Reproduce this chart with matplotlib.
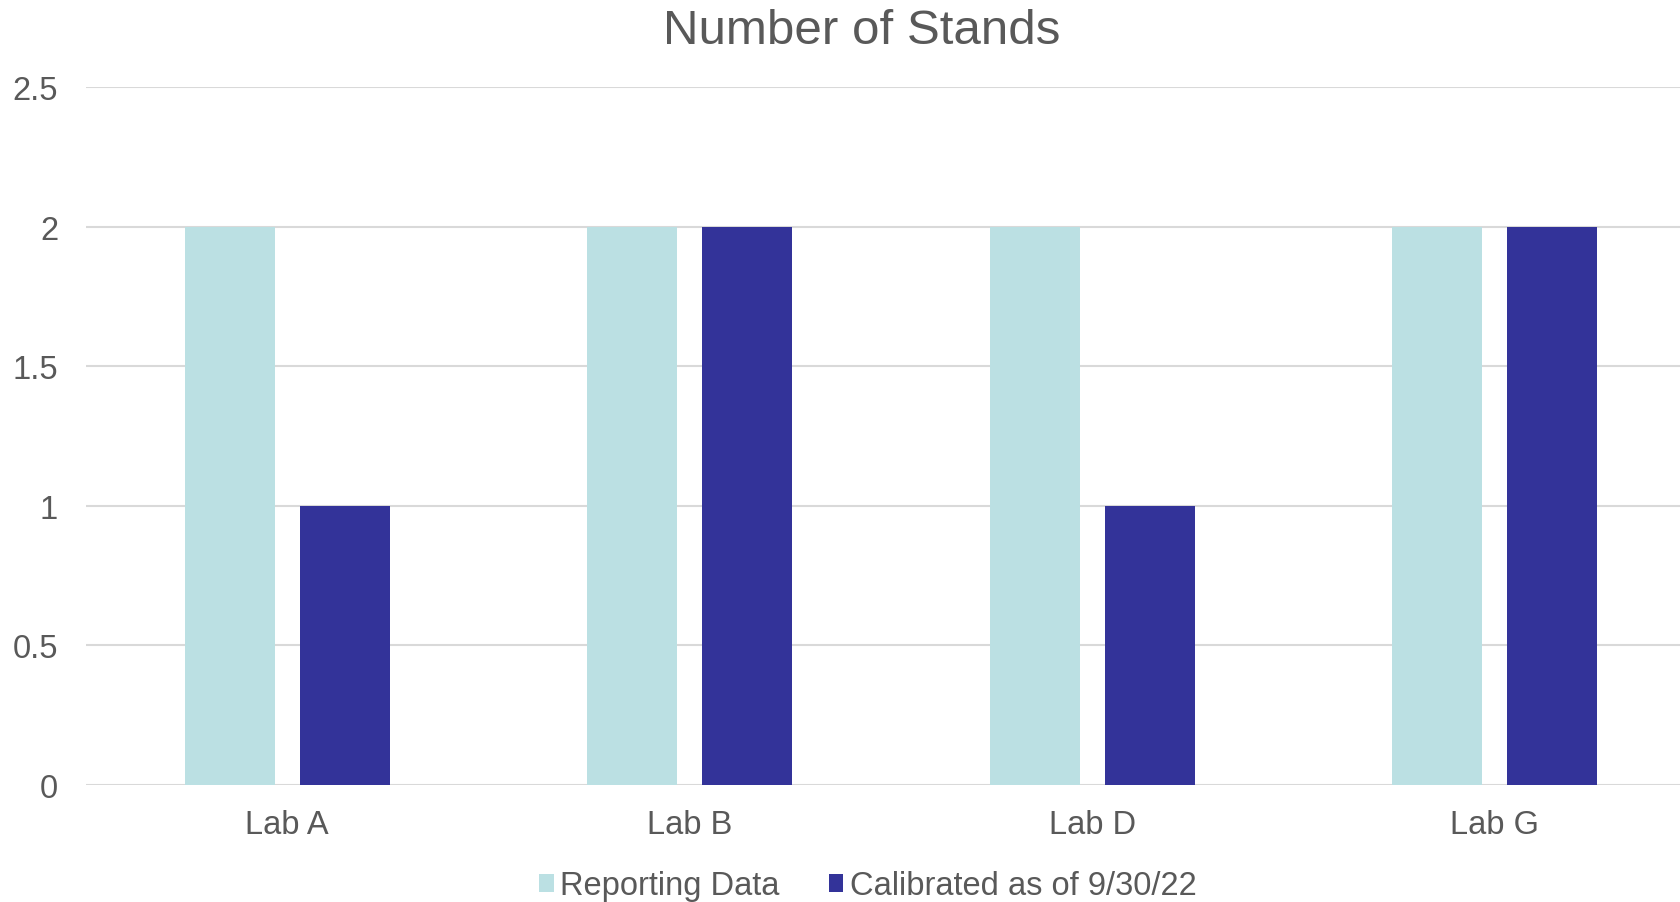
import numpy as np
import matplotlib
matplotlib.use('Agg')
import matplotlib.pyplot as plt

labs = ['Lab A', 'Lab B', 'Lab D', 'Lab G']
reporting = [2, 2, 2, 2]
calibrated = [1, 2, 1, 2]
series_names = ['Reporting Data', 'Calibrated as of 9/30/22']
yticks = [0, 0.5, 1, 1.5, 2, 2.5]
ytick_labels = ['0', '0.5', '1', '1.5', '2', '2.5']

light = '#BBE0E3'
dark = '#333399'
grey_txt = '#595959'
grid_col = '#D9D9D9'

plt.rcParams['font.family'] = ['Liberation Sans', 'DejaVu Sans']

fig = plt.figure(figsize=(16.81, 9.03), dpi=100)
# plot area runs slightly past the right edge, as in the original
ax = fig.add_axes([86/1681, 117/903, 1610/1681, 698/903])

x = np.arange(len(labs))
w = 0.224
off = 0.143
ax.bar(x - off, reporting, w, color=light, zorder=3, label=series_names[0])
ax.bar(x + off, calibrated, w, color=dark, zorder=3, label=series_names[1])

ax.set_xlim(-0.5, len(labs) - 0.5)
ax.set_ylim(0, 2.5)
ax.set_yticks(yticks)
ax.set_yticklabels(ytick_labels)
ax.set_xticks(x)
ax.set_xticklabels(labs)
ax.tick_params(axis='both', length=0, labelsize=23.5, colors=grey_txt)
ax.tick_params(axis='y', pad=20)
ax.tick_params(axis='x', pad=17)
ax.yaxis.grid(True, color=grid_col, linewidth=1.5, zorder=0)
ax.set_axisbelow(True)
for s in ax.spines.values():
    s.set_visible(False)

fig.text(862/1681, 1 - 31/903, 'Number of Stands', ha='center', va='center',
         fontsize=35.5, color=grey_txt)

leg = fig.legend(loc='center', bbox_to_anchor=(868/1681, 1 - 887/903), ncol=2,
                 frameon=False, fontsize=23.5, handlelength=0.45, handleheight=0.45,
                 handletextpad=0.2, columnspacing=1.5)
for t in leg.get_texts():
    t.set_color(grey_txt)

fig.savefig('out.png', dpi=100, facecolor='white')
